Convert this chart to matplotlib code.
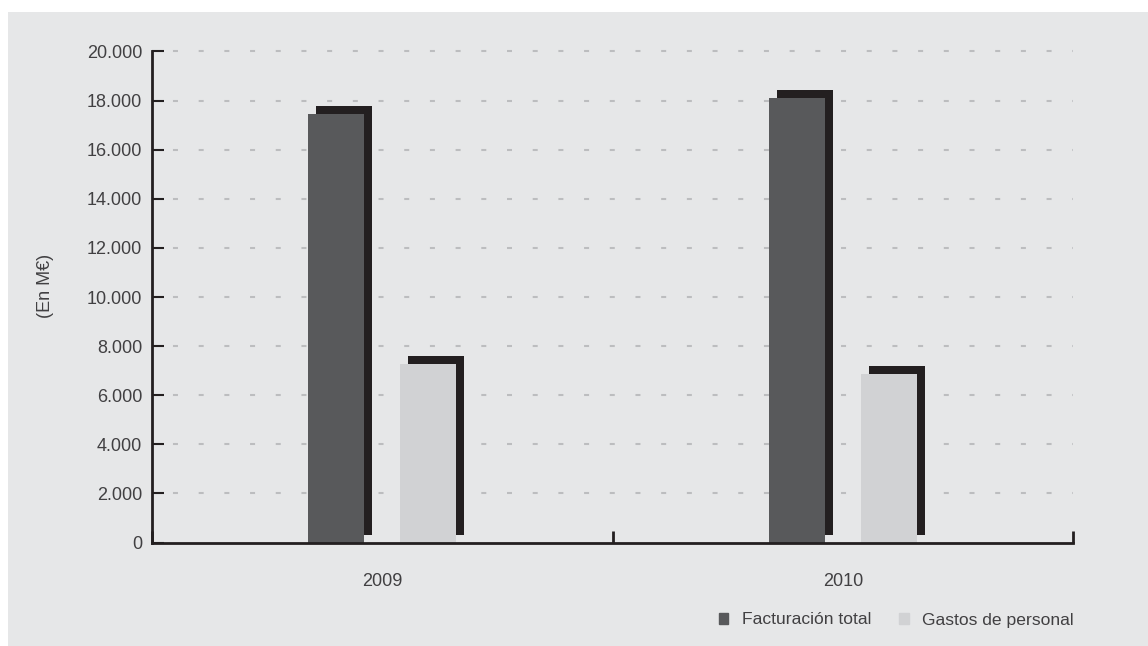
import matplotlib
matplotlib.use('Agg')
import matplotlib.pyplot as plt
from matplotlib.patches import Rectangle, Patch
from matplotlib.transforms import ScaledTranslation
from matplotlib.ticker import FuncFormatter

# data (En M€)
years = ['2009', '2010']
facturacion = [17450, 18100]
gastos = [7270, 6860]
series_names = ['Facturación total', 'Gastos de personal']

dark = '#58595b'
light = '#d1d2d4'
shadow = '#231f20'
bg = '#e6e7e8'
txt = '#414042'

plt.rcParams['font.family'] = ['Liberation Sans', 'DejaVu Sans']
plt.rcParams['lines.scale_dashes'] = False

fig = plt.figure(figsize=(11.48, 6.46), dpi=100)
fig.patch.set_facecolor('white')
# grey panel behind everything
fig.patches.append(Rectangle((8 / 1148, 0), 1, 1 - 12 / 646, transform=fig.transFigure,
                             facecolor=bg, edgecolor='none', zorder=-10))

ax = fig.add_axes([152 / 1148, 1 - 542.5 / 646, (1073 - 152) / 1148, (542.5 - 51.5) / 646])
ax.set_facecolor('none')

x = list(range(len(years)))
w = 0.122
off = 0.1
# drop shadow: same bar moved 8 px right and 8 px up
shift = ax.transData + ScaledTranslation(0.08, 0.08, fig.dpi_scale_trans)
for vals, dx, col in [(facturacion, -off, dark), (gastos, off, light)]:
    xs = [i + dx for i in x]
    ax.bar(xs, vals, width=w, color=shadow, transform=shift, zorder=2, clip_on=False)
    ax.bar(xs, vals, width=w, color=col, zorder=3)

ax.set_xlim(-0.5, 1.5)
ax.set_ylim(0, 20000)

# y axis
ax.set_yticks(range(0, 20001, 2000))
ax.yaxis.set_major_formatter(FuncFormatter(lambda v, p: f'{int(v):,}'.replace(',', '.')))
ax.tick_params(axis='y', direction='in', length=8.5, width=1.5, color=shadow,
               labelsize=13, labelcolor=txt, pad=7)

# grid: short grey dashes
for v in range(2000, 20001, 2000):
    ax.plot([-0.5, 1.5], [v, v], color='#bcbdbf', lw=1.5,
            linestyle=(3.4, (3.6, 14.9)), zorder=1, clip_on=False)

# x axis: boundary ticks pointing up, labels at group centres
ax.set_xticks([-0.5, 0.5, 1.5])
ax.set_xticklabels(['', '', ''])
ax.tick_params(axis='x', which='major', direction='in', length=8.5, width=2, color=shadow)
ax.set_xticks(x, minor=True)
ax.set_xticklabels(years, minor=True)
ax.tick_params(axis='x', which='minor', length=0, labelsize=13, labelcolor=txt, pad=22)

for s in ['top', 'right']:
    ax.spines[s].set_visible(False)
for s in ['left', 'bottom']:
    ax.spines[s].set_color(shadow)
    ax.spines[s].set_linewidth(2)
    ax.spines[s].set_zorder(4)

fig.text(45 / 1148, 1 - 286 / 646, '(En M€)', rotation=90, ha='center', va='center',
         fontsize=13, color=txt)

handles = [Patch(color=dark), Patch(color=light)]
leg = fig.legend(handles, series_names, loc='center right',
                 bbox_to_anchor=(1089 / 1148, 1 - 620 / 646), ncol=2, frameon=False,
                 fontsize=12.6, handlelength=0.55, handleheight=0.55, handletextpad=0.75,
                 columnspacing=1.6, labelcolor=txt)

fig.savefig('out.png', dpi=100)
